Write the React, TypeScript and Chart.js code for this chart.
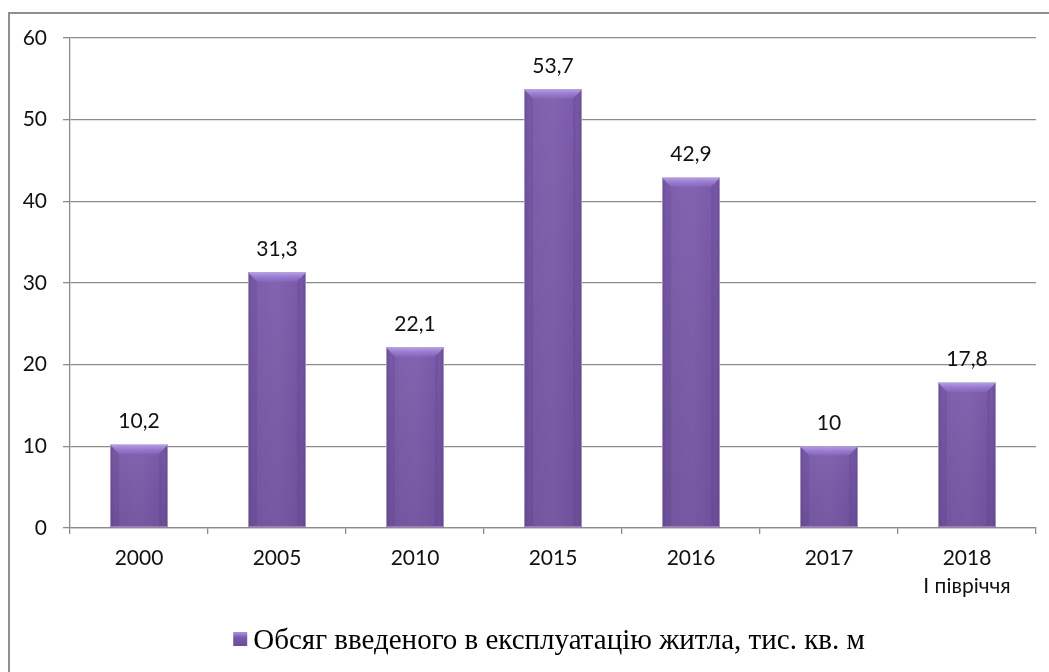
import React, { useEffect, useRef } from "react";
import { Chart, registerables } from "chart.js";

Chart.register(...registerables);

const categories: (string | string[])[] = ["2000", "2005", "2010", "2015", "2016", "2017", ["2018", "І півріччя"]];
const values: number[] = [10.2, 31.3, 22.1, 53.7, 42.9, 10, 17.8];
const seriesLabel = "Обсяг введеного в експлуатацію житла, тис. кв. м";
const yMin = 0;
const yMax = 60;
const yStep = 10;

const FONT = "Lato, 'Open Sans', sans-serif";
const BAR = "#7b5aab";

const valueLabels = {
  id: "valueLabels",
  afterDatasetsDraw(chart: any) {
    const ctx = chart.ctx;
    const meta = chart.getDatasetMeta(0);
    ctx.save();
    ctx.font = `21px ${FONT}`;
    ctx.fillStyle = "#111";
    ctx.textAlign = "center";
    ctx.textBaseline = "middle";
    meta.data.forEach((el: any, i: number) => {
      const v = chart.data.datasets[0].data[i];
      ctx.fillText(String(v).replace(".", ","), el.x, el.y - 23);
    });
    ctx.restore();
  },
};

const barShade = {
  id: "barShade",
  afterDatasetsDraw(chart: any) {
    const ctx = chart.ctx;
    const meta = chart.getDatasetMeta(0);
    ctx.save();
    meta.data.forEach((el: any) => {
      const left = el.x - el.width / 2;
      const right = el.x + el.width / 2;
      const top = el.y;
      const bottom = el.base;
      const w = right - left;
      const h = bottom - top;
      const g = ctx.createLinearGradient(left, 0, right, 0);
      g.addColorStop(0, "rgba(40,20,70,0.16)");
      g.addColorStop(0.12, "rgba(255,255,255,0.03)");
      g.addColorStop(0.5, "rgba(255,255,255,0.06)");
      g.addColorStop(0.88, "rgba(255,255,255,0.0)");
      g.addColorStop(1, "rgba(40,20,70,0.2)");
      ctx.fillStyle = g;
      ctx.fillRect(left, top, w, h);
      const gv = ctx.createLinearGradient(0, top, 0, bottom);
      gv.addColorStop(0, "rgba(0,0,0,0)");
      gv.addColorStop(1, "rgba(30,10,60,0.12)");
      ctx.fillStyle = gv;
      ctx.fillRect(left, top, w, h);
      const bev = Math.min(9, h / 2);
      const gb = ctx.createLinearGradient(0, top, 0, top + bev);
      gb.addColorStop(0, "rgba(185,160,240,0.95)");
      gb.addColorStop(1, "rgba(150,120,215,0.35)");
      ctx.fillStyle = gb;
      ctx.beginPath();
      ctx.moveTo(left, top);
      ctx.lineTo(right, top);
      ctx.lineTo(right - bev, top + bev);
      ctx.lineTo(left + bev, top + bev);
      ctx.closePath();
      ctx.fill();
      ctx.fillStyle = "rgba(60,30,100,0.12)";
      ctx.beginPath();
      ctx.moveTo(left, top);
      ctx.lineTo(left + bev, top + bev);
      ctx.lineTo(left + bev, bottom - 2);
      ctx.lineTo(left, bottom);
      ctx.closePath();
      ctx.fill();
      ctx.beginPath();
      ctx.moveTo(right, top);
      ctx.lineTo(right - bev, top + bev);
      ctx.lineTo(right - bev, bottom - 2);
      ctx.lineTo(right, bottom);
      ctx.closePath();
      ctx.fill();
      ctx.strokeStyle = "rgba(175,160,200,0.9)";
      ctx.lineWidth = 1;
      ctx.strokeRect(left + 0.5, top + 0.5, w - 1, h - 1);
    });
    ctx.restore();
  },
};

const customLegend = {
  id: "customLegend",
  afterDraw(chart: any) {
    const ctx = chart.ctx;
    ctx.save();
    ctx.font = `29px 'Liberation Serif', 'Times New Roman', serif`;
    const text = chart.data.datasets[0].label;
    const tw = ctx.measureText(text).width;
    const box = 14;
    const gap = 6;
    const total = box + gap + tw;
    const cx = 549;
    const cy = 640;
    const x0 = cx - total / 2;
    const g = ctx.createLinearGradient(x0, cy - box / 2, x0, cy + box / 2);
    g.addColorStop(0, "#a88be0");
    g.addColorStop(0.3, "#7b5aab");
    g.addColorStop(1, "#6a4b96");
    ctx.fillStyle = g;
    ctx.fillRect(x0, cy - box / 2 - 1, box, box);
    ctx.fillStyle = "#000";
    ctx.textAlign = "left";
    ctx.textBaseline = "middle";
    ctx.fillText(text, x0 + box + gap, cy + 1);
    ctx.restore();
  },
};

export default function App() {
  const ref = useRef<HTMLCanvasElement | null>(null);
  useEffect(() => {
    if (!ref.current) return;
    const chart = new Chart(ref.current, {
      type: "bar",
      data: {
        labels: categories,
        datasets: [
          {
            label: seriesLabel,
            data: values,
            backgroundColor: BAR,
            borderWidth: 0,
            barPercentage: 0.42,
            categoryPercentage: 1,
          },
        ],
      },
      options: {
        animation: false,
        responsive: false,
        devicePixelRatio: 1,
        layout: { padding: { left: 0, top: 38, right: 13, bottom: 0 } },
        plugins: {
          legend: { display: false },
          tooltip: { enabled: false },
          title: { display: false },
        },
        scales: {
          x: {
            afterFit(scale: any) {
              scale.height = 144;
            },
            grid: {
              display: true,
              drawOnChartArea: false,
              drawTicks: true,
              tickLength: 6,
              color: "#8c8c8c",
              lineWidth: 1.3,
            },
            border: { display: true, color: "#8c8c8c", width: 1.3 },
            ticks: {
              color: "#111",
              font: { family: FONT, size: 21, lineHeight: 1.3 },
              padding: 11,
              maxRotation: 0,
              autoSkip: false,
            },
          },
          y: {
            min: yMin,
            max: yMax,
            afterFit(scale: any) {
              scale.width = 70;
            },
            grid: {
              color: "#8c8c8c",
              lineWidth: 1.3,
              tickLength: 7,
            },
            border: { display: true, color: "#8c8c8c", width: 1.3 },
            ticks: {
              stepSize: yStep,
              color: "#111",
              font: { family: FONT, size: 21 },
              padding: 16,
            },
          },
        },
      },
      plugins: [barShade, valueLabels, customLegend],
    });
    return () => chart.destroy();
  }, []);

  return (
    <div
      style={{
        position: "absolute",
        left: 0,
        top: 0,
        width: 1049,
        height: 672,
        overflow: "hidden",
        background: "#fff",
      }}
    >
      <div
        style={{
          position: "absolute",
          left: 8,
          top: 12,
          width: 1100,
          height: 700,
          borderLeft: "2px solid #8f8f8f",
          borderTop: "2px solid #8f8f8f",
        }}
      />
      <canvas ref={ref} width={1049} height={672} style={{ position: "absolute", left: 0, top: 0 }} />
    </div>
  );
}
